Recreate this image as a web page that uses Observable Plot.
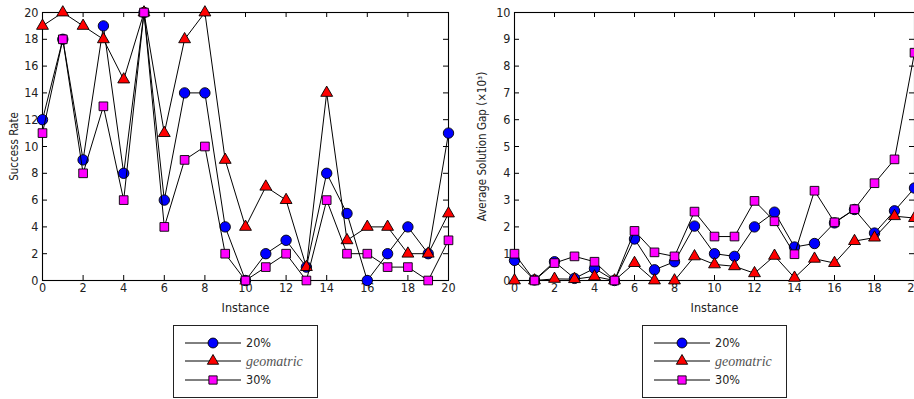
<!DOCTYPE html>
<html>
<head>
<meta charset="utf-8">
<script src="https://cdn.jsdelivr.net/npm/d3@7"></script>
<script src="https://cdn.jsdelivr.net/npm/@observablehq/plot@0.6"></script>
<style>
  html, body { margin: 0; padding: 0; background: #fff; }
  body { width: 914px; height: 399px; overflow: hidden; position: relative;
         font-family: "DejaVu Sans Condensed", "DejaVu Sans", sans-serif; }
  .panel { position: absolute; top: 0; }
  .legend { position: absolute; box-sizing: border-box; width: 145px; height: 73px;
            border: 1px solid #222; background: #fff; }
  .legend svg { display: block; }
</style>
</head>
<body>
<div id="left" class="panel" style="left:0px"></div>
<div id="right" class="panel" style="left:457px"></div>
<div id="legL" class="legend" style="left:173px; top:325px"></div>
<div id="legR" class="legend" style="left:642px; top:325px"></div>
<script>
// ---- data ----
const instances = [0,1,2,3,4,5,6,7,8,9,10,11,12,13,14,15,16,17,18,19,20];
const xTicks = [0,2,4,6,8,10,12,14,16,18,20];
const successTicks = [0,2,4,6,8,10,12,14,16,18,20];
const gapTicks = [0,1,2,3,4,5,6,7,8,9,10];

const seriesNames = ["20%", "geomatric", "30%"];
const seriesColors = ["#0000ff", "#ff0000", "#ff00ff"];
const seriesSymbols = ["circle", "triangle", "square"];

const success20  = [12,18,9,19,8,20,6,14,14,4,0,2,3,1,8,5,0,2,4,2,11];
const successGeo = [19,20,19,18,15,20,11,18,20,9,4,7,6,1,14,3,4,4,2,2,5];
const success30  = [11,18,8,13,6,20,4,9,10,2,0,1,2,0,6,2,2,1,1,0,3];

const gap20  = [0.75,0.02,0.7,0.08,0.45,0,1.55,0.4,0.7,2.03,1.0,0.9,2.0,2.55,1.25,1.38,2.15,2.65,1.77,2.6,3.45];
const gapGeo = [0,0,0.06,0.05,0.15,0,0.65,0,0,0.9,0.6,0.53,0.27,0.92,0.1,0.81,0.65,1.47,1.6,2.4,2.33];
const gap30  = [1.0,0,0.65,0.9,0.7,0,1.85,1.05,0.9,2.57,1.64,1.64,2.97,2.21,0.98,3.35,2.17,2.66,3.63,4.52,8.5];

const symbolR = {circle: 5.2, triangle: 4.4, square: 4.9};
const FONT = '"DejaVu Sans Condensed", "DejaVu Sans", sans-serif';

function chart({values, yDomain, yTicks, yLabel, labelX, width, marginLeft, marginRight}) {
  const height = 320, marginTop = 12, marginBottom = 40;
  const fw = width - marginLeft - marginRight;
  const fh = height - marginTop - marginBottom;
  const marks = [];
  values.forEach((vals, s) => {
    const rows = instances.map((x, i) => ({x, y: vals[i]}));
    marks.push(Plot.line(rows, {x: "x", y: "y", stroke: "black", strokeWidth: 1}));
    marks.push(Plot.dot(rows, {x: "x", y: "y", symbol: () => seriesSymbols[s],
      r: symbolR[seriesSymbols[s]], fill: seriesColors[s], stroke: "black", strokeWidth: 0.9}));
  });
  return Plot.plot({
    width, height, marginTop, marginBottom, marginLeft, marginRight,
    style: {fontFamily: FONT, fontSize: "12.5px", color: "#222", background: "white", overflow: "visible"},
    x: {domain: [0, 20]},
    y: {domain: yDomain},
    symbol: {type: "identity"},
    marks: [
      Plot.axisX(xTicks, {tickSize: 0, tickPadding: 3, label: null, fill: "#222"}),
      Plot.axisY(yTicks, {tickSize: 0, tickPadding: 4, label: null, fill: "#222"}),
      Plot.tickY(yTicks, {y: d => d, insetRight: fw - 5, stroke: "black"}),
      Plot.tickY(yTicks, {y: d => d, insetLeft: fw - 5, stroke: "black"}),
      Plot.tickX(xTicks, {x: d => d, insetTop: fh - 5, stroke: "black"}),
      Plot.tickX(xTicks, {x: d => d, insetBottom: fh - 5, stroke: "black"}),
      Plot.frame({stroke: "black", strokeWidth: 1.1}),
      ...marks,
      Plot.text(["Instance"], {text: d => d, frameAnchor: "bottom", textAnchor: "middle", lineAnchor: "middle", dy: 27, fontSize: 12.5, fill: "#222"}),
      Plot.text([yLabel], {text: d => d, frameAnchor: "left", textAnchor: "middle", lineAnchor: "middle", rotate: -90, dx: -(marginLeft - labelX), fontSize: 11.5, fill: "#222"})
    ]
  });
}

document.getElementById("left").append(chart({
  values: [success20, successGeo, success30], yDomain: [0, 20], yTicks: successTicks,
  yLabel: "Success Rate", labelX: 14, width: 457, marginLeft: 42, marginRight: 9
}));
document.getElementById("right").append(chart({
  values: [gap20, gapGeo, gap30], yDomain: [0, 10], yTicks: gapTicks,
  yLabel: "Average Solution Gap (×10³)", labelX: 25, width: 457, marginLeft: 57, marginRight: 0
}));

function legend(id) {
  const svg = d3.select("#" + id).append("svg").attr("width", 143).attr("height", 71);
  const rowsY = [17, 35, 54];
  const d3sym = {circle: d3.symbolCircle, triangle: d3.symbolTriangle, square: d3.symbolSquare};
  seriesNames.forEach((name, i) => {
    const g = svg.append("g").attr("transform", `translate(0,${rowsY[i]})`);
    g.append("line").attr("x1", 11).attr("x2", 67).attr("y1", 0).attr("y2", 0)
      .attr("stroke", "black").attr("stroke-width", 1);
    const sym = seriesSymbols[i];
    const r = symbolR[sym] * 0.95;
    g.append("path").attr("transform", "translate(39,0)")
      .attr("d", d3.symbol(d3sym[sym], Math.PI * r * r)())
      .attr("fill", seriesColors[i]).attr("stroke", "black").attr("stroke-width", 0.9);
    const t = g.append("text").attr("x", 72).attr("y", 0).attr("dy", "0.35em")
      .attr("fill", "#222").text(name);
    if (name === "geomatric") {
      t.attr("font-family", '"Liberation Serif", "DejaVu Serif", serif').attr("font-style", "italic")
       .attr("font-size", 14).attr("fill", "#555");
    } else {
      t.attr("font-family", FONT).attr("font-size", 12.5);
    }
  });
}
legend("legL");
legend("legR");
</script>
</body>
</html>
